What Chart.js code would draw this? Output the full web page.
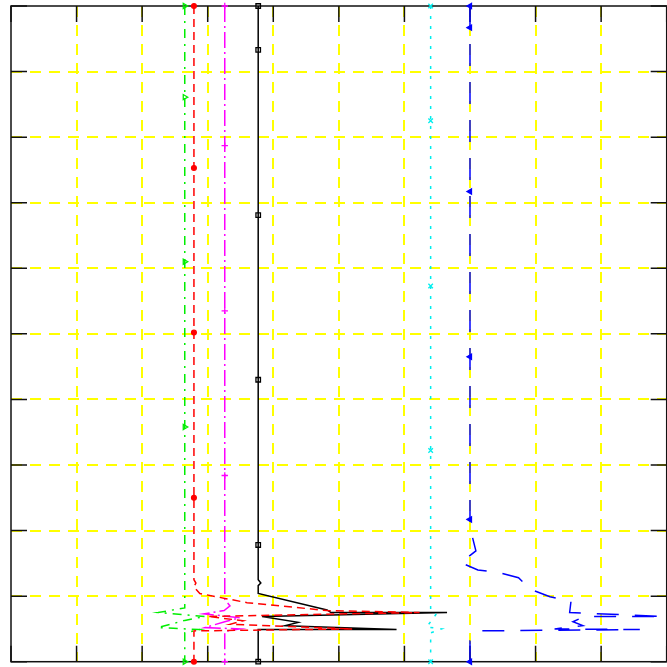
<!DOCTYPE html>
<html>
<head>
<meta charset="utf-8">
<script src="https://cdn.jsdelivr.net/npm/chart.js@4.4.1/dist/chart.umd.min.js"></script>
<style>
  html, body { margin: 0; padding: 0; background: #fff; overflow: hidden; }
  #wrap { width: 667px; height: 667px; overflow: hidden; }
</style>
</head>
<body>
<div id="wrap"><canvas id="profileChart" width="672" height="667"></canvas></div>
<script>
// axis range (no tick labels shown, only grid + inward tick marks)
const axisMin = 0;
const axisMax = 10;
const axisStep = 1;

// profiles: [x, y], top to bottom
const redLine = [[2.79,10],[2.79,7.53],[2.79,5.02],[2.79,2.50],[2.79,1.25],[2.82,1.20],[2.79,1.14],[2.88,1.04],[3.60,0.90],[4.82,0.78],[6.23,0.75],[3.00,0.69],[3.54,0.625],[3.34,0.57],[5.21,0.50],[2.79,0.47],[2.79,0]];
const redMarks = [10, 7.53, 5.02, 2.50, 0];

const greenLine = [[2.65,10],[2.65,8.61],[2.65,6.10],[2.65,3.58],[2.65,0.82],[2.24,0.75],[2.96,0.69],[2.65,0.63],[2.24,0.52],[2.88,0.49],[2.65,0.44],[2.65,0]];
const greenMarks = [10, 8.61, 6.10, 3.58, 0];

const magentaLine = [[3.26,10],[3.26,7.87],[3.26,5.35],[3.26,2.84],[3.26,0.95],[3.34,0.85],[3.25,0.78],[2.94,0.73],[3.49,0.67],[3.26,0.61],[2.96,0.52],[3.49,0.50],[3.26,0.46],[3.26,0]];
const magentaMarks = [10, 7.87, 5.35, 2.84, 0];

const cyanLine = [[6.40,10],[6.40,8.25],[6.40,5.73],[6.40,3.22],[6.40,0.79],[6.48,0.72],[6.34,0.53],[6.57,0.50],[6.40,0.44],[6.40,0]];
const cyanMarks = [10, 8.25, 5.73, 3.22, 0];

const blueLine = [[7.0,10],[7.0,9.67],[7.0,7.17],[7.0,4.65],[7.0,2.17],[7.04,1.89],[7.09,1.69],[6.86,1.51],[7.12,1.40],[7.44,1.36],[7.74,1.28],[7.93,1.10],[8.22,0.99],[8.54,0.92],[8.52,0.75],[9.95,0.69],[8.75,0.69],[8.57,0.61],[8.72,0.55],[8.29,0.50],[9.59,0.49],[7.15,0.47],[7.0,0.32],[7.0,0]];
const blueMarks = [10, 9.67, 7.17, 4.65, 2.17, 0];

const blackLine = [[3.77,10],[3.77,9.33],[3.77,6.81],[3.77,4.30],[3.77,1.78],[3.77,1.25],[3.81,1.20],[3.77,1.16],[3.77,1.04],[4.82,0.79],[4.88,0.75],[6.65,0.75],[3.83,0.69],[4.38,0.60],[4.18,0.55],[5.88,0.49],[3.77,0.49],[3.77,0]];
const blackMarks = [10, 9.33, 6.81, 4.30, 1.78, 0];

function profile(pairs, marks, color, dash, style, rotation, fill, size) {
  return {
    data: pairs.map(p => ({ x: p[0], y: p[1] })),
    showLine: true,
    borderColor: color,
    borderWidth: 1.5,
    borderDash: dash,
    pointStyle: style,
    pointRotation: rotation,
    pointRadius: ctx => (marks.includes(ctx.raw.y) ? size : 0),
    pointBorderColor: color,
    pointBorderWidth: 1.3,
    pointBackgroundColor: fill ? color : "rgba(0,0,0,0)",
    tension: 0,
    clip: false
  };
}

// frame + inward tick marks on all four sides
const boxPlugin = {
  id: "box",
  beforeDatasetsDraw(chart) {
    const { ctx, chartArea: a, scales } = chart;
    const len = 16;
    ctx.save();
    ctx.setLineDash([]);
    ctx.strokeStyle = "#111";
    ctx.lineWidth = 1.5;
    ctx.beginPath();
    scales.x.ticks.forEach(t => {
      const px = scales.x.getPixelForValue(t.value);
      ctx.moveTo(px, a.bottom); ctx.lineTo(px, a.bottom - len);
      ctx.moveTo(px, a.top); ctx.lineTo(px, a.top + len);
    });
    scales.y.ticks.forEach(t => {
      const py = scales.y.getPixelForValue(t.value);
      ctx.moveTo(a.left, py); ctx.lineTo(a.left + len, py);
      ctx.moveTo(a.right, py); ctx.lineTo(a.right - len, py);
    });
    ctx.stroke();
    ctx.strokeRect(a.left, a.top, a.right - a.left, a.bottom - a.top);
    ctx.restore();
  }
};

const gridColor = ctx => (ctx.tick && (ctx.tick.value === axisMin || ctx.tick.value === axisMax)) ? "rgba(0,0,0,0)" : "#ffff00";

const ctx = document.getElementById("profileChart").getContext("2d");
const chart = new Chart(ctx, {
  type: "scatter",
  data: {
    datasets: [
      profile(redLine, redMarks, "#ff0000", [8, 5], "circle", 0, true, 2.4),
      profile(greenLine, greenMarks, "#00ee00", [9, 6, 2, 6], "triangle", 90, false, 3),
      profile(magentaLine, magentaMarks, "#ff00ff", [16, 4, 2, 4], "cross", 0, false, 3.2),
      profile(cyanLine, cyanMarks, "#00eeee", [3, 7], "crossRot", 0, false, 3.2),
      profile(blueLine, blueMarks, "#0000ff", [22, 16], "triangle", -90, true, 3),
      profile(blackLine, blackMarks, "#000000", [], "rect", 0, false, 3.2)
    ]
  },
  options: {
    responsive: false,
    animation: false,
    events: [],
    layout: { padding: { left: 11, top: 6, right: 0, bottom: 5 } },
    plugins: { legend: { display: false }, tooltip: { enabled: false } },
    scales: {
      x: {
        type: "linear",
        min: axisMin,
        max: axisMax,
        ticks: { display: false, stepSize: axisStep },
        grid: { color: gridColor, lineWidth: 2, drawTicks: false },
        border: { display: false, dash: [11, 8] }
      },
      y: {
        type: "linear",
        min: axisMin,
        max: axisMax,
        ticks: { display: false, stepSize: axisStep },
        grid: { color: gridColor, lineWidth: 2, drawTicks: false },
        border: { display: false, dash: [11, 8] }
      }
    }
  },
  plugins: [boxPlugin]
});
</script>
</body>
</html>
